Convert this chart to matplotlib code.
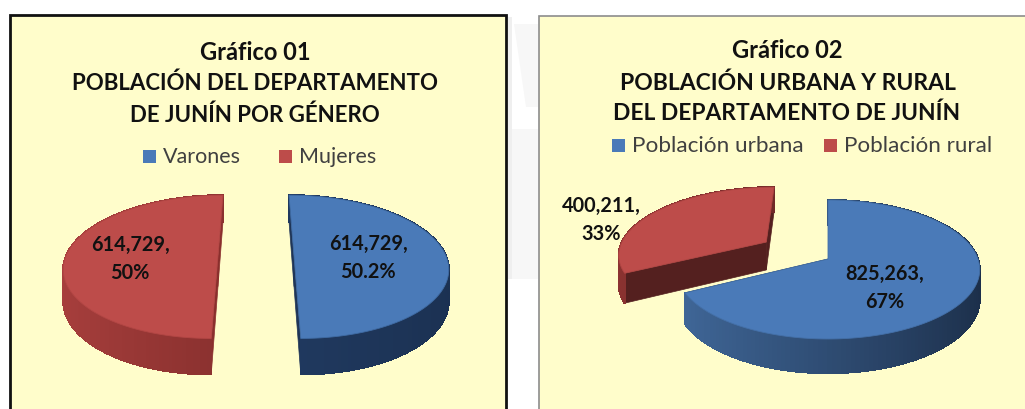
import numpy as np
import matplotlib
matplotlib.use("Agg")
import matplotlib.pyplot as plt
from matplotlib.collections import PolyCollection
from matplotlib.colors import LinearSegmentedColormap
from matplotlib.patches import Polygon, Rectangle

plt.rcParams["font.family"] = ["Lato", "DejaVu Sans"]

# data
genero_names = ["Varones", "Mujeres"]
genero_values = [614729, 614729]
genero_labels = ["614,729,\n50.2%", "614,729,\n50%"]
area_names = ["Población urbana", "Población rural"]
area_values = [825263, 400211]
area_labels = ["825,263,\n67%", "400,211,\n33%"]

title_1 = "Gráfico 01\nPOBLACIÓN DEL DEPARTAMENTO\nDE JUNÍN POR GÉNERO"
title_2 = "Gráfico 02\nPOBLACIÓN URBANA Y RURAL\nDEL DEPARTAMENTO DE JUNÍN"

BLUE = "#4a7ab8"
RED = "#bd4c4a"
PANEL = "#fffdcb"
PERSP = 0.151


def project(x, y, cx, cy, r, b, depth=0.0):
    # tilted disc with a little perspective, y = 1 is the far edge
    w = 1 / (1 + PERSP * y)
    return cx + r * x * w, cy - b * y * w + depth * w


def slice_3d(ax, cx, cy, r, b, depth, a0, a1, explode, top, ramp, cut_color, edge):
    mid = np.radians((a0 + a1) / 2)
    ox, oy = explode * np.cos(mid), explode * np.sin(mid)
    t = np.radians(np.linspace(a0, a1, 160))
    xs = ox + np.cos(t)
    ys = oy + np.sin(t)
    cmap = LinearSegmentedColormap.from_list("side", ramp)

    # flat cut faces
    for ang in (a0, a1):
        ex = ox + np.cos(np.radians(ang))
        ey = oy + np.sin(np.radians(ang))
        pts = []
        for px, py, d in [(ox, oy, 0), (ex, ey, 0), (ex, ey, depth), (ox, oy, depth)]:
            pts.append(project(px, py, cx, cy, r, b, d))
        ax.add_patch(Polygon(pts, closed=True, fc=cut_color, ec=cut_color, lw=0.5, zorder=2))

    # outer wall, shaded left to right
    quads, cols = [], []
    for i in range(len(t) - 1):
        p0 = project(xs[i], ys[i], cx, cy, r, b)
        p1 = project(xs[i + 1], ys[i + 1], cx, cy, r, b)
        p2 = project(xs[i + 1], ys[i + 1], cx, cy, r, b, depth)
        p3 = project(xs[i], ys[i], cx, cy, r, b, depth)
        quads.append([p0, p1, p2, p3])
        cols.append(cmap((np.cos(t[i]) + 1) / 2))
    ax.add_collection(PolyCollection(quads, facecolors=cols, edgecolors=cols, linewidths=0.8,
                                     antialiaseds=False, zorder=3))

    # top surface
    rim = [project(x, y, cx, cy, r, b) for x, y in zip(xs, ys)]
    rim.append(project(ox, oy, cx, cy, r, b))
    ax.add_patch(Polygon(rim, closed=True, fc=top, ec=edge, lw=0.6, zorder=4))


def legend_item(ax, x, y, name, color, size):
    ax.add_patch(Rectangle((x, y - 6.5), 13, 13, fc=color, ec="none", zorder=5))
    ax.text(x + 20, y, name, fontsize=size, color="#404040", va="center", ha="left", zorder=6)


def title_line(ax, x, y, text, size):
    ax.text(x, y, text, fontsize=size, fontweight="bold", ha="center", va="center", color="#111111", zorder=6)


def data_label(ax, x, y, text):
    ax.text(x, y, text, fontsize=14.3, fontweight="bold", ha="center", va="center",
            linespacing=1.5, color="#111111", zorder=6)


fig = plt.figure(figsize=(10.25, 4.1), dpi=100, facecolor="white")
ax = fig.add_axes([0, 0, 1, 1])
ax.set_xlim(0, 1025)
ax.set_ylim(410, 0)
ax.axis("off")

# faint bits of the page behind the panels
ax.add_patch(Rectangle((508, 18), 4, 262, fc="#efefef", ec="none", zorder=0))
ax.add_patch(Polygon([(514, 25), (538, 25), (538, 108), (526, 108)], closed=True, fc="#f7f7f7", ec="none", zorder=0))
ax.add_patch(Polygon([(512, 130), (538, 130), (538, 280), (512, 280)], closed=True, fc="#f7f7f7", ec="none", zorder=0))

ax.add_patch(Rectangle((9.5, 16), 496, 400, fc=PANEL, ec="#111111", lw=2, zorder=1))
ax.add_patch(Rectangle((538.5, 16.5), 500, 400, fc=PANEL, ec="#8c8c8c", lw=1.2, zorder=1))

# Grafico 01
a_split = 90 - 360 * genero_values[0] / sum(genero_values)
slice_3d(ax, 256, 257, 152, 70, 30.5, a_split, 90, 0.25, BLUE,
         ["#24406a", "#1b3152"], "#1f3557", "#3f6ba3")
slice_3d(ax, 256, 257, 152, 70, 30.5, 90, a_split + 360, 0.25, RED,
         ["#a83f3d", "#6f2422"], "#8a2f2d", "#b24644")

lines = title_1.split("\n")
title_line(ax, 255, 52, lines[0], 17)
title_line(ax, 255, 83, lines[1], 16)
title_line(ax, 255, 115, lines[2], 16)
legend_item(ax, 143, 157, genero_names[0], BLUE, 15.5)
legend_item(ax, 279, 157, genero_names[1], RED, 15.5)
data_label(ax, 368, 258, genero_labels[0])
data_label(ax, 130, 259, genero_labels[1])

# Grafico 02
a_split = 90 - 360 * area_values[0] / sum(area_values)
slice_3d(ax, 828, 260, 150, 67.9, 29, a_split, 90, 0.0, BLUE,
         ["#41699b", "#1c2f4a"], "#1c2f4a", "#4470a8")
slice_3d(ax, 828, 260, 150, 67.9, 29, 90, a_split + 360, 0.5, RED,
         ["#8c3331", "#54201f"], "#54201f", "#b04543")

lines = title_2.split("\n")
title_line(ax, 787, 51, lines[0], 17)
title_line(ax, 788, 83, lines[1], 16.5)
title_line(ax, 787, 113, lines[2], 16.4)
legend_item(ax, 612, 146, area_names[0], BLUE, 16.2)
legend_item(ax, 824, 146, area_names[1], RED, 16.1)
data_label(ax, 885, 288, area_labels[0])
data_label(ax, 601, 220, area_labels[1])

fig.savefig("out.png", dpi=100)
plt.close(fig)
